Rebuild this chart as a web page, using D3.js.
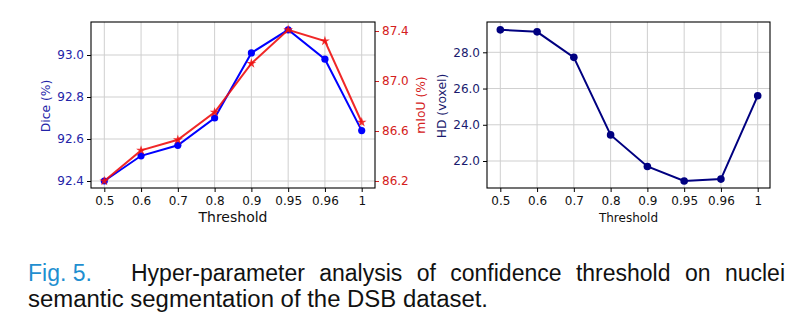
<!DOCTYPE html>
<html><head><meta charset="utf-8">
<script src="https://cdn.jsdelivr.net/npm/d3@7"></script>
<style>
html,body{margin:0;padding:0;background:#fff;}
svg{display:block;}
.mpl{font-family:"DejaVu Sans",sans-serif;}
.cap{font-family:"Liberation Sans",Arial,sans-serif;}
</style></head>
<body>
<svg id="c" width="806" height="333"></svg>
<script>
const thresholds = ["0.5","0.6","0.7","0.8","0.9","0.95","0.96","1"];
const diceValues = [92.40, 92.52, 92.57, 92.70, 93.01, 93.12, 92.98, 92.64];
const miouValues = [86.20, 86.445, 86.53, 86.75, 87.14, 87.41, 87.32, 86.67];
const hdValues = [29.24, 29.13, 27.72, 23.44, 21.70, 20.90, 21.00, 25.60];
const diceTicks = [92.4, 92.6, 92.8, 93.0];
const miouTicks = [86.2, 86.6, 87.0, 87.4];
const hdTicks = [22, 24, 26, 28];
const captionLabel = "Fig. 5.";
const captionLine1 = ["Hyper-parameter","analysis","of","confidence","threshold","on","nuclei"];
const captionLine2 = "semantic segmentation of the DSB dataset.";

const svg = d3.select("#c");
const BLUE = "#0000ff", RED = "#ee1111", NAVY = "#000080";
const gridC = "#cfcfcf";

function frame(x0, x1, y0, y1) {
  svg.append("rect").attr("x", x0).attr("y", y0).attr("width", x1 - x0).attr("height", y1 - y0)
    .attr("fill", "none").attr("stroke", "#000").attr("stroke-width", 1.1);
}
function styleTicks(ax, color) {
  ax.select(".domain").remove();
  ax.selectAll("text").attr("class", "mpl").attr("fill", color)
    .style("font-size", "12px").style("font-family", "DejaVu Sans");
}

// ---------- Left chart ----------
const L = {x0: 91, x1: 375, y0: 22, y1: 188};
const xL = d3.scalePoint().domain(thresholds).range([L.x0 + 13.3, L.x1 - 13.3]);
const yDice = d3.scaleLinear().domain([92.4, 93.0]).range([181, 55]);
const yMiou = d3.scaleLinear().domain([86.2, 87.4]).range([181, 31]);

svg.selectAll(".vg").data(thresholds).join("line")
  .attr("x1", d => xL(d)).attr("x2", d => xL(d)).attr("y1", L.y0).attr("y2", L.y1)
  .attr("stroke", gridC).attr("stroke-width", 1);
svg.selectAll(".hg").data(diceTicks).join("line")
  .attr("x1", L.x0).attr("x2", L.x1).attr("y1", d => yDice(d)).attr("y2", d => yDice(d))
  .attr("stroke", gridC).attr("stroke-width", 1);

const axL = svg.append("g").attr("transform", `translate(${L.x0},0)`)
  .call(d3.axisLeft(yDice).tickValues(diceTicks).tickFormat(d3.format(".1f")).tickSize(4).tickPadding(3));
styleTicks(axL, "#2424a8");
axL.selectAll("line").attr("stroke", "#000");

const axR = svg.append("g").attr("transform", `translate(${L.x1},0)`)
  .call(d3.axisRight(yMiou).tickValues(miouTicks).tickFormat(d3.format(".1f")).tickSize(4).tickPadding(3));
styleTicks(axR, "#d42020");
axR.selectAll("line").attr("stroke", "#d42020");

const axB = svg.append("g").attr("transform", `translate(0,${L.y1})`)
  .call(d3.axisBottom(xL).tickSize(4).tickPadding(4));
styleTicks(axB, "#111");

const lineDice = d3.line().x((d, i) => xL(thresholds[i])).y(d => yDice(d));
svg.append("path").datum(diceValues).attr("d", lineDice).attr("fill", "none")
  .attr("stroke", BLUE).attr("stroke-width", 2);
svg.selectAll(".dd").data(diceValues).join("circle")
  .attr("cx", (d, i) => xL(thresholds[i])).attr("cy", d => yDice(d)).attr("r", 3.6).attr("fill", BLUE);

const lineMiou = d3.line().x((d, i) => xL(thresholds[i])).y(d => yMiou(d));
svg.append("path").datum(miouValues).attr("d", lineMiou).attr("fill", "none")
  .attr("stroke", RED).attr("stroke-width", 2).attr("opacity", 0.9);
const star = d3.symbol().type(d3.symbolStar).size(30);
svg.selectAll(".md").data(miouValues).join("path")
  .attr("d", star).attr("transform", (d, i) => `translate(${xL(thresholds[i])},${yMiou(d)})`)
  .attr("fill", RED).attr("opacity", 0.85);

frame(L.x0, L.x1, L.y0, L.y1);

svg.append("text").attr("class", "mpl").attr("transform", "translate(50,106) rotate(-90)").attr("text-anchor", "middle")
  .attr("fill", "#2424a8").style("font-size", "12.3px").text("Dice (%)");
svg.append("text").attr("class", "mpl").attr("transform", "translate(425,105) rotate(-90)").attr("text-anchor", "middle")
  .attr("fill", "#d42020").style("font-size", "12.3px").text("mIoU (%)");
svg.append("text").attr("class", "mpl").attr("x", (L.x0 + L.x1) / 2).attr("y", 222).attr("text-anchor", "middle")
  .attr("fill", "#111").style("font-size", "14px").text("Threshold");

// ---------- Right chart ----------
const R = {x0: 487, x1: 770, y0: 22, y1: 188};
const xR = d3.scalePoint().domain(thresholds).range([R.x0 + 13.3, R.x1 - 12.3]);
const yHD = d3.scaleLinear().domain([22, 28]).range([161, 52.3]);

svg.selectAll(".vg2").data(thresholds).join("line")
  .attr("x1", d => xR(d)).attr("x2", d => xR(d)).attr("y1", R.y0).attr("y2", R.y1)
  .attr("stroke", gridC).attr("stroke-width", 1);
svg.selectAll(".hg2").data(hdTicks).join("line")
  .attr("x1", R.x0).attr("x2", R.x1).attr("y1", d => yHD(d)).attr("y2", d => yHD(d))
  .attr("stroke", gridC).attr("stroke-width", 1);

const axL2 = svg.append("g").attr("transform", `translate(${R.x0},0)`)
  .call(d3.axisLeft(yHD).tickValues(hdTicks).tickFormat(d3.format(".1f")).tickSize(4).tickPadding(3));
styleTicks(axL2, "#1a1a6e");
axL2.selectAll("line").attr("stroke", "#000");

const axB2 = svg.append("g").attr("transform", `translate(0,${R.y1})`)
  .call(d3.axisBottom(xR).tickSize(4).tickPadding(4));
styleTicks(axB2, "#111");

const lineHD = d3.line().x((d, i) => xR(thresholds[i])).y(d => yHD(d));
svg.append("path").datum(hdValues).attr("d", lineHD).attr("fill", "none")
  .attr("stroke", NAVY).attr("stroke-width", 2);
svg.selectAll(".hd").data(hdValues).join("circle")
  .attr("cx", (d, i) => xR(thresholds[i])).attr("cy", d => yHD(d)).attr("r", 3.8).attr("fill", NAVY);

frame(R.x0, R.x1, R.y0, R.y1);

svg.append("text").attr("class", "mpl").attr("transform", "translate(446,106) rotate(-90)").attr("text-anchor", "middle")
  .attr("fill", "#1a1a6e").style("font-size", "12.3px").text("HD (voxel)");
svg.append("text").attr("class", "mpl").attr("x", (R.x0 + R.x1) / 2).attr("y", 222).attr("text-anchor", "middle")
  .attr("fill", "#111").style("font-size", "12px").text("Threshold");

// ---------- Caption ----------
const FS = 23;
const cap = svg.append("g");
function capText(s, x, y, fill) {
  return cap.append("text").attr("class", "cap").attr("x", x).attr("y", y).attr("fill", fill)
    .style("font-family", "'Liberation Sans', Arial, sans-serif").style("font-size", FS + "px").text(s);
}
capText(captionLabel, 28, 281, "#1f8fd0");
const startX = 131, endX = 785;
const words = captionLine1.map(w => capText(w, 0, 281, "#111"));
const widths = words.map(t => t.node().getComputedTextLength());
const gap = (endX - startX - d3.sum(widths)) / (words.length - 1);
let cx = startX;
words.forEach((t, i) => { t.attr("x", cx); cx += widths[i] + gap; });
capText(captionLine2, 28, 307, "#111")
  .attr("textLength", 460).attr("lengthAdjust", "spacingAndGlyphs");
</script>
</body></html>
